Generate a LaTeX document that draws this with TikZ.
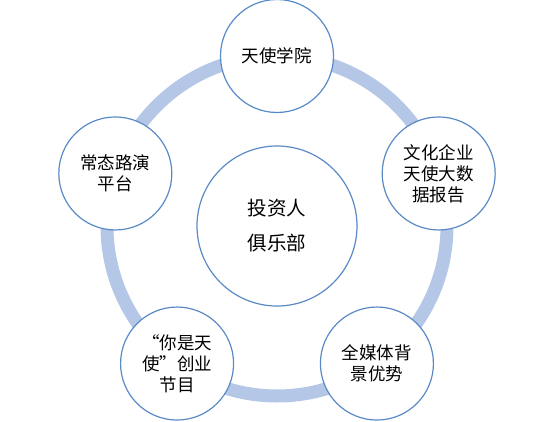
\documentclass[tikz,border=0pt]{standalone}
\usepackage{fontspec}
\newfontfamily\cjk{Noto Sans CJK SC}
\definecolor{RingColor}{HTML}{B4C7E7}
\definecolor{EdgeColor}{HTML}{5A8AC6}

\tikzset{
  hub/.style={circle, draw=EdgeColor, line width=1.2pt, fill=white,
    minimum size=160pt, inner sep=0pt, align=center,
    font=\cjk\fontsize{19.5}{35}\selectfont},
  sat/.style={circle, draw=EdgeColor, line width=1.2pt, fill=white,
    minimum size=113pt, inner sep=0pt, align=center,
    font=\cjk\fontsize{17.5}{21}\selectfont}
}

\begin{document}
\begin{tikzpicture}[x=1pt,y=1pt]
  % ===== Parámetros =====
  \def\ringradius{170}
  \def\ringwidth{13pt}

  \useasboundingbox (-277,-195) rectangle (277,226);

  % ===== Anillo =====
  \draw[RingColor, line width=\ringwidth] (0,0) circle (\ringradius);

  % ===== Centro =====
  \node[hub] (club) at (0,0) {投资人\\俱乐部};

  % ===== Satélites =====
  \foreach \ang/\name/\txt in {
      90/academy/天使学院,
      18/report/文化企业\\天使大数\\据报告,
      306/media/全媒体背\\景优势,
      234/show/“你是天\\使”创业\\节目,
      162/roadshow/常态路演\\平台}{
    \node[sat] (\name) at (\ang:\ringradius) {\txt};
  }

\end{tikzpicture}
\end{document}
